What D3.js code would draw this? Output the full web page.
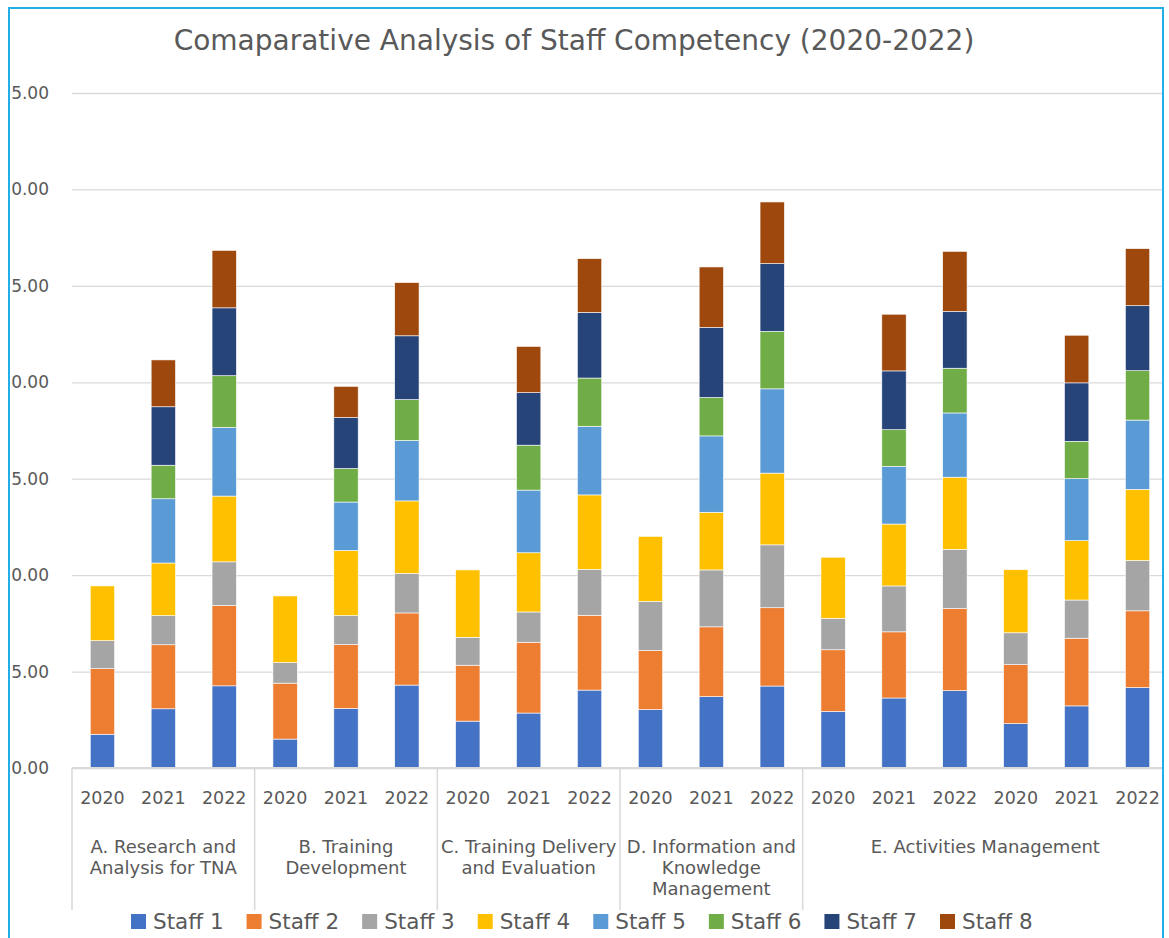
<!DOCTYPE html>
<html lang="en">
<head>
  <meta charset="utf-8">
  <title>Comaparative Analysis of Staff Competency (2020-2022)</title>
  <style>
    body { margin: 0; background: #fff; }
    text { font-family: "DejaVu Sans", "Open Sans", sans-serif; fill: #595959; }
  </style>
</head>
<body>
  <script src="https://cdnjs.cloudflare.com/ajax/libs/d3/7.8.5/d3.min.js"></script>
  <script>
  // one entry per bar
  const years = ["2020", "2021", "2022", "2020", "2021", "2022", "2020", "2021", "2022",
                 "2020", "2021", "2022", "2020", "2021", "2022", "2020", "2021", "2022"];
  const groupIndex = [0, 0, 0, 1, 1, 1, 2, 2, 2, 3, 3, 3, 4, 4, 4, 4, 4, 4];
  const groupLabels = [
    ["A. Research and", "Analysis for TNA"],
    ["B. Training", "Development"],
    ["C. Training Delivery", "and Evaluation"],
    ["D. Information and", "Knowledge", "Management"],
    ["E. Activities Management"]
  ];

  const staffNames = ["Staff 1", "Staff 2", "Staff 3", "Staff 4", "Staff 5", "Staff 6", "Staff 7", "Staff 8"];
  const staffColors = ["#4472c4", "#ed7d31", "#a5a5a5", "#ffc000", "#5b9bd5", "#70ad47", "#264478", "#9e480e"];

  const staff1 = [1.75, 3.07, 4.26, 1.50, 3.09, 4.30, 2.43, 2.85, 4.04, 3.03, 3.70, 4.25, 2.93, 3.63, 4.01, 2.30, 3.22, 4.17];
  const staff2 = [3.40, 3.32, 4.17, 2.90, 3.31, 3.74, 2.90, 3.67, 3.88, 3.06, 3.62, 4.06, 3.20, 3.43, 4.26, 3.06, 3.51, 3.98];
  const staff3 = [1.45, 1.51, 2.26, 1.07, 1.50, 2.05, 1.45, 1.57, 2.38, 2.55, 2.95, 3.26, 1.63, 2.38, 3.07, 1.65, 1.98, 2.61];
  const staff4 = [2.84, 2.73, 3.41, 3.45, 3.38, 3.76, 3.49, 3.07, 3.86, 3.37, 2.99, 3.72, 3.17, 3.21, 3.74, 3.27, 3.08, 3.69];
  const staff5 = [0, 3.33, 3.56, 0, 2.51, 3.13, 0, 3.25, 3.56, 0, 3.96, 4.37, 0, 2.99, 3.33, 0, 3.21, 3.59];
  const staff6 = [0, 1.74, 2.68, 0, 1.74, 2.12, 0, 2.33, 2.50, 0, 1.99, 2.98, 0, 1.90, 2.32, 0, 1.94, 2.56];
  const staff7 = [0, 3.03, 3.52, 0, 2.64, 3.31, 0, 2.72, 3.40, 0, 3.63, 3.51, 0, 3.05, 2.94, 0, 3.03, 3.37];
  const staff8 = [0, 2.43, 2.98, 0, 1.62, 2.76, 0, 2.40, 2.79, 0, 3.14, 3.20, 0, 2.94, 3.12, 0, 2.47, 2.96];
  const series = [staff1, staff2, staff3, staff4, staff5, staff6, staff7, staff8];

  const yTicks = [0, 5, 10, 15, 20, 25, 30, 35];

  const W = 1169, H = 938;
  const plot = { left: 72, right: 1168, top: 93, bottom: 768 };

  const svg = d3.select("body")
    .append("svg")
    .attr("width", W)
    .attr("height", H);

  svg.append("defs").append("clipPath")
    .attr("id", "frame")
    .append("rect")
    .attr("x", 9).attr("y", 8)
    .attr("width", 1154).attr("height", H - 8);

  const chart = svg.append("g").attr("clip-path", "url(#frame)");

  // table built from the arrays
  const rows = years.map((y, i) => {
    const r = { i: i };
    staffNames.forEach((s, k) => { r[s] = series[k][i]; });
    return r;
  });
  const stacked = d3.stack().keys(staffNames)(rows);

  const x = d3.scaleBand()
    .domain(d3.range(years.length))
    .range([plot.left, plot.right])
    .paddingInner(0.6)
    .paddingOuter(0.3);

  const y = d3.scaleLinear()
    .domain([0, 35])
    .range([plot.bottom, plot.top]);

  const color = d3.scaleOrdinal().domain(staffNames).range(staffColors);

  // gridlines + y labels
  const yAxis = d3.axisLeft(y)
    .tickValues(yTicks)
    .tickFormat(d3.format(".2f"))
    .tickSize(-(plot.right - plot.left))
    .tickPadding(23);

  chart.append("g")
    .attr("transform", `translate(${plot.left},0)`)
    .call(yAxis)
    .call(g => g.select(".domain").remove())
    .call(g => g.selectAll(".tick line").attr("stroke", "#d9d9d9").attr("stroke-width", 1.3))
    .call(g => g.selectAll(".tick text")
      .attr("font-size", 17)
      .style("fill", "#595959")
      .style("font-family", "'DejaVu Sans', sans-serif"));

  // bars
  chart.append("g")
    .selectAll("g")
    .data(stacked)
    .join("g")
    .attr("fill", d => color(d.key))
    .selectAll("rect")
    .data(d => d.filter(s => s[1] - s[0] > 0))
    .join("rect")
    .attr("x", d => x(d.data.i))
    .attr("width", x.bandwidth())
    .attr("y", d => y(d[1]))
    .attr("height", d => y(d[0]) - y(d[1]))
    .attr("stroke", "#ffffff")
    .attr("stroke-width", 0.6);

  // category axis
  const axisG = chart.append("g");
  axisG.append("line")
    .attr("x1", plot.left).attr("x2", plot.right)
    .attr("y1", plot.bottom).attr("y2", plot.bottom)
    .attr("stroke", "#d9d9d9").attr("stroke-width", 2);

  axisG.selectAll(".year")
    .data(years)
    .join("text")
    .attr("class", "year")
    .attr("x", (d, i) => x(i) + x.bandwidth() / 2)
    .attr("y", 804)
    .attr("text-anchor", "middle")
    .attr("font-size", 17.5)
    .text(d => d);

  const step = x.step();
  const groupBounds = groupLabels.map((g, k) => {
    const idx = groupIndex.map((v, i) => v === k ? i : -1).filter(i => i >= 0);
    const x0 = x(idx[0]) - step * x.paddingInner() / 2;
    const x1 = x(idx[idx.length - 1]) + x.bandwidth() + step * x.paddingInner() / 2;
    return { k: k, x0: x0, x1: x1 };
  });

  const sepXs = [groupBounds[0].x0].concat(groupBounds.map(b => b.x1));
  axisG.selectAll(".sep")
    .data(sepXs)
    .join("line")
    .attr("class", "sep")
    .attr("x1", d => d).attr("x2", d => d)
    .attr("y1", plot.bottom).attr("y2", 910)
    .attr("stroke", "#d9d9d9").attr("stroke-width", 1.5);

  axisG.selectAll(".group")
    .data(groupBounds)
    .join("text")
    .attr("class", "group")
    .attr("x", d => (d.x0 + d.x1) / 2)
    .attr("y", 853)
    .attr("text-anchor", "middle")
    .attr("font-size", 18)
    .each(function(d) {
      d3.select(this).selectAll("tspan")
        .data(groupLabels[d.k])
        .join("tspan")
        .attr("x", (d.x0 + d.x1) / 2)
        .attr("dy", (t, j) => j === 0 ? 0 : 21)
        .text(t => t);
    });

  // legend
  const legendX = d3.scalePoint()
    .domain(staffNames)
    .range([131, 940]);

  const legend = chart.append("g")
    .selectAll("g")
    .data(staffNames)
    .join("g")
    .attr("transform", d => `translate(${legendX(d)}, 914)`);

  legend.append("rect")
    .attr("width", 15)
    .attr("height", 15)
    .attr("fill", d => color(d));

  legend.append("text")
    .attr("x", 22)
    .attr("y", 15)
    .attr("font-size", 21.5)
    .text(d => d);

  // title
  chart.append("text")
    .attr("x", 574)
    .attr("y", 50)
    .attr("text-anchor", "middle")
    .attr("font-size", 28)
    .text("Comaparative Analysis of Staff Competency (2020-2022)");

  // chart frame
  svg.append("path")
    .attr("d", `M9,${H} V8 H1163 V${H}`)
    .attr("fill", "none")
    .attr("stroke", "#22aee6")
    .attr("stroke-width", 2);
  </script>
</body>
</html>
